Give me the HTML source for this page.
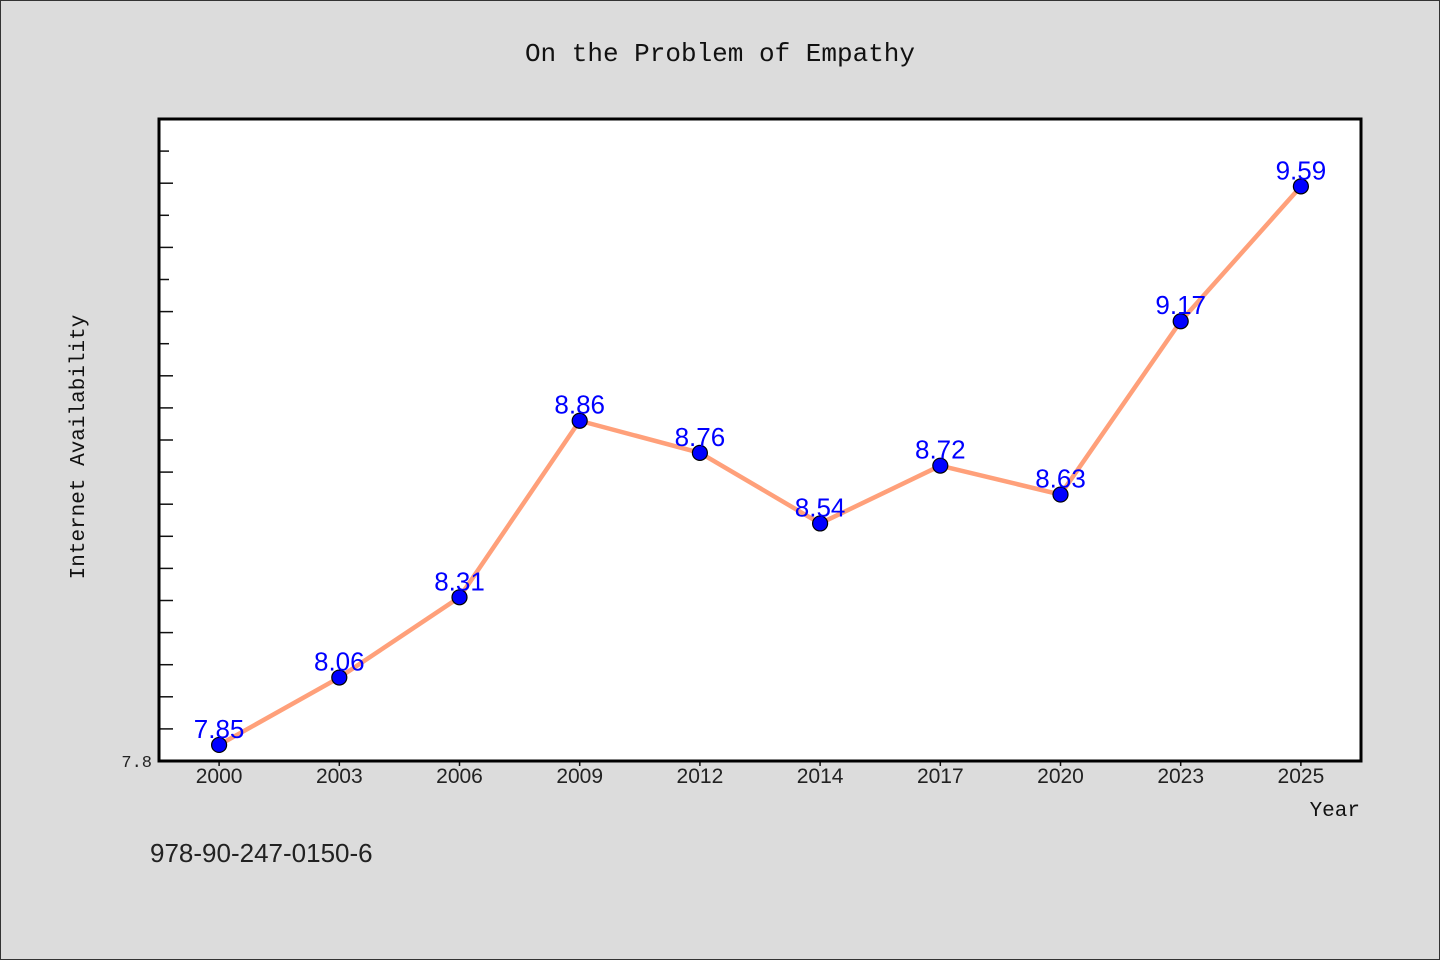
<!DOCTYPE html>
<html><head><meta charset="utf-8"><style>
html,body{margin:0;padding:0;background:#dcdcdc}
svg{display:block}
</style></head><body>
<svg id="chart" width="1440" height="960" xmlns="http://www.w3.org/2000/svg">
<rect x="0.5" y="0.5" width="1439" height="959" fill="#dcdcdc" stroke="#333"/>
<text x="720" y="61" text-anchor="middle" font-family="Liberation Mono, monospace" font-size="26" fill="#111">On the Problem of Empathy</text>
<rect x="159" y="119" width="1202" height="642" fill="#fff"/>
<g id="yticks"></g>
<g id="xticks"></g>
<path id="line" fill="none" stroke="#ffa07a" stroke-width="4.5" stroke-linejoin="round"/>
<g id="points"></g>
<rect x="159" y="119" width="1202" height="642" fill="none" stroke="#000" stroke-width="3"/>
<text x="152" y="767" text-anchor="end" font-family="Liberation Mono, monospace" font-size="17" fill="#222">7.8</text>
<text transform="translate(84,447) rotate(-90)" text-anchor="middle" font-family="Liberation Mono, monospace" font-size="21" fill="#111">Internet Availability</text>
<text x="1360" y="816" text-anchor="end" font-family="Liberation Mono, monospace" font-size="21" fill="#111">Year</text>
<text x="150" y="862" font-family="Liberation Sans, sans-serif" font-size="26" fill="#222">978-90-247-0150-6</text>
</svg>
<script>
const categories=["2000","2003","2006","2009","2012","2014","2017","2020","2023","2025"];
const values=[7.85,8.06,8.31,8.86,8.76,8.54,8.72,8.63,9.17,9.59];
const yMin=7.8, yMax=9.8;
const NS="http://www.w3.org/2000/svg";
const L=159,R=1361,T=119,B=761;
const band=(R-L)/categories.length;
const xs=i=>L+band*(i+0.5);
const ys=v=>B-(v-yMin)/(yMax-yMin)*(B-T);
function mk(tag,attrs,parent){const e=document.createElementNS(NS,tag);for(const k in attrs)e.setAttribute(k,attrs[k]);parent.appendChild(e);return e;}
const yt=document.getElementById('yticks');
for(let k=1;k<=19;k++){const v=yMin+k*0.1;const y=ys(v);const long=(k%2===0)||k<=12;
const t=mk('line',{x1:L,x2:L+(long?14:10),y1:y,y2:y,stroke:'#111','stroke-width':1.5},yt);

}
const xt=document.getElementById('xticks');
categories.forEach((c,i)=>{const x=xs(i);
const tk=mk('line',{x1:x,x2:x,y1:B,y2:B+5,stroke:'#111','stroke-width':1.5},xt);


const tx=mk('text',{x:x,y:B+22,'text-anchor':'middle','font-family':'Liberation Sans, sans-serif','font-size':21,fill:'#222'},xt);
tx.textContent=c;

});
document.getElementById('line').setAttribute('d',values.map((v,i)=>(i?'L':'M')+xs(i)+' '+ys(v)).join(' '));
const pg=document.getElementById('points');
values.forEach((v,i)=>{
const c=mk('circle',{cx:xs(i),cy:ys(v),r:7.5,fill:'#0000ff',stroke:'#000','stroke-width':1.2},pg);


const t=mk('text',{x:xs(i),y:ys(v)-7,'text-anchor':'middle','font-family':'Liberation Sans, sans-serif','font-size':26,fill:'#0000ff'},pg);
t.textContent=v.toFixed(2);

});
</script>
</body></html>
